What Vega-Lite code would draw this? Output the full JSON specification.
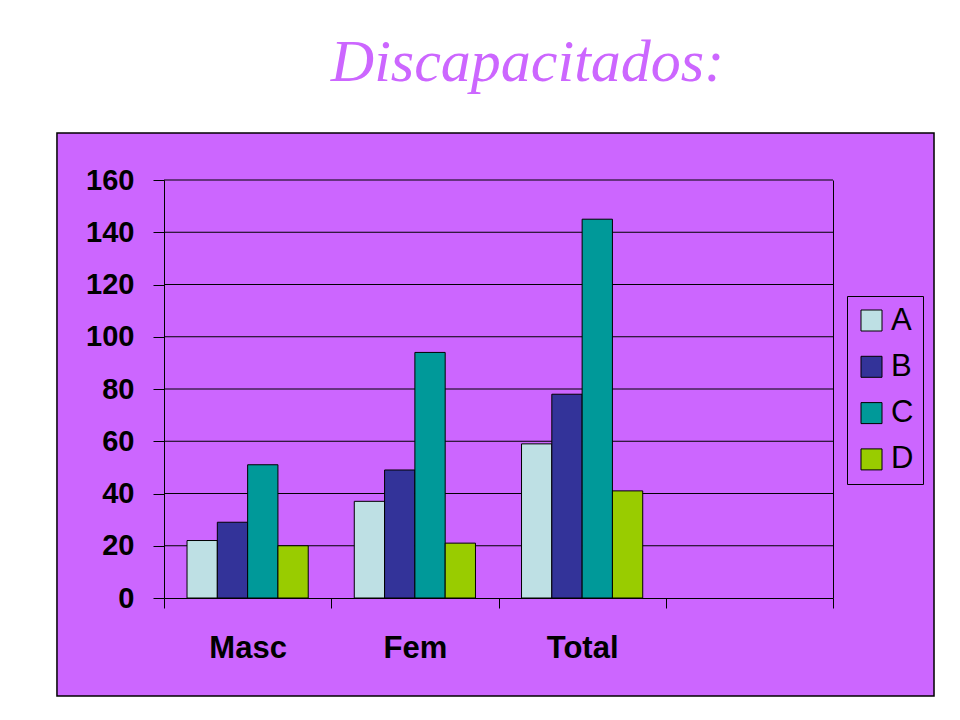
{
  "$schema": "https://vega.github.io/schema/vega-lite/v6.json",
  "width": 669,
  "height": 418,
  "autosize": {"type": "none"},
  "padding": {"left": 164, "top": 180, "right": 127, "bottom": 122},
  "background": "white",
  "title": {
    "text": "Discapacitados:",
    "font": "Liberation Serif",
    "fontStyle": "italic",
    "fontWeight": "normal",
    "fontSize": 60,
    "color": "#CC66FF",
    "anchor": "middle",
    "frame": "group",
    "dx": 29,
    "baseline": "alphabetic",
    "offset": -9
  },
  "datasets": {
    "valores": [
      {"grupo": "Masc", "serie": "A", "valor": 22},
      {"grupo": "Masc", "serie": "B", "valor": 29},
      {"grupo": "Masc", "serie": "C", "valor": 51},
      {"grupo": "Masc", "serie": "D", "valor": 20},
      {"grupo": "Fem", "serie": "A", "valor": 37},
      {"grupo": "Fem", "serie": "B", "valor": 49},
      {"grupo": "Fem", "serie": "C", "valor": 94},
      {"grupo": "Fem", "serie": "D", "valor": 21},
      {"grupo": "Total", "serie": "A", "valor": 59},
      {"grupo": "Total", "serie": "B", "valor": 78},
      {"grupo": "Total", "serie": "C", "valor": 145},
      {"grupo": "Total", "serie": "D", "valor": 41}
    ],
    "rejilla": [
      {"v": 20}, {"v": 40}, {"v": 60}, {"v": 80},
      {"v": 100}, {"v": 120}, {"v": 140}, {"v": 160}
    ]
  },
  "layer": [
    {
      "data": {"values": [{}]},
      "mark": {"type": "rect", "fill": "#CC66FF", "stroke": "black", "strokeWidth": 1.5},
      "encoding": {
        "x": {"datum": -0.16, "type": "quantitative", "scale": {"domain": [0, 1], "nice": false, "zero": false}, "axis": null},
        "x2": {"datum": 1.151},
        "y": {"datum": 178, "type": "quantitative", "scale": {"domain": [0, 160], "nice": false}, "axis": null},
        "y2": {"datum": -37.5}
      }
    },
    {
      "data": {"name": "rejilla"},
      "mark": {"type": "rule", "color": "black", "strokeWidth": 1},
      "encoding": {
        "y": {
          "field": "v",
          "type": "quantitative",
          "scale": {"domain": [0, 160], "nice": false},
          "axis": {"orient": "right", "labels": false, "ticks": false, "domain": true, "domainColor": "black", "grid": false, "title": null, "zindex": 1}
        }
      }
    },
    {
      "data": {"name": "valores"},
      "mark": {"type": "bar", "stroke": "black", "strokeWidth": 1},
      "encoding": {
        "x": {
          "field": "grupo",
          "type": "nominal",
          "scale": {"domain": ["Masc", "Fem", "Total", " "], "paddingInner": 0, "paddingOuter": 0},
          "axis": {
            "title": null,
            "labelAngle": 0,
            "labelFont": "Liberation Sans",
            "labelFontWeight": "bold",
            "labelFontSize": 31,
            "labelColor": "black",
            "labelPadding": 25,
            "tickSize": 10,
            "tickColor": "black",
            "tickBand": "extent",
            "domainColor": "black",
            "grid": false,
            "zindex": 1
          }
        },
        "xOffset": {"field": "serie", "type": "nominal", "scale": {"paddingInner": 0, "paddingOuter": 0.76}},
        "y": {
          "field": "valor",
          "type": "quantitative",
          "scale": {"domain": [0, 160], "nice": false},
          "axis": {
            "orient": "left",
            "title": null,
            "values": [0, 20, 40, 60, 80, 100, 120, 140, 160],
            "labelFont": "Liberation Sans",
            "labelFontWeight": "bold",
            "labelFontSize": 29,
            "labelColor": "black",
            "labelPadding": 19,
            "tickSize": 11,
            "tickColor": "black",
            "domainColor": "black",
            "grid": false,
            "zindex": 1
          }
        },
        "color": {
          "field": "serie",
          "type": "nominal",
          "scale": {"domain": ["A", "B", "C", "D"], "range": ["#BEE0E4", "#333399", "#009999", "#99CC00"]},
          "legend": {
            "title": null,
            "orient": "none",
            "legendX": 683,
            "legendY": 116,
            "direction": "vertical",
            "fillColor": "#CC66FF",
            "strokeColor": "black",
            "padding": 9,
            "rowPadding": 14.3,
            "symbolType": "square",
            "symbolSize": 441,
            "symbolStrokeColor": "black",
            "symbolStrokeWidth": 1,
            "symbolOpacity": 1,
            "labelFont": "Liberation Sans",
            "labelFontSize": 31,
            "labelColor": "black",
            "labelOffset": 4,
            "labelLimit": 0
          }
        }
      }
    }
  ],
  "resolve": {"scale": {"x": "independent"}, "axis": {"y": "independent"}},
  "config": {"view": {"stroke": null}}
}
